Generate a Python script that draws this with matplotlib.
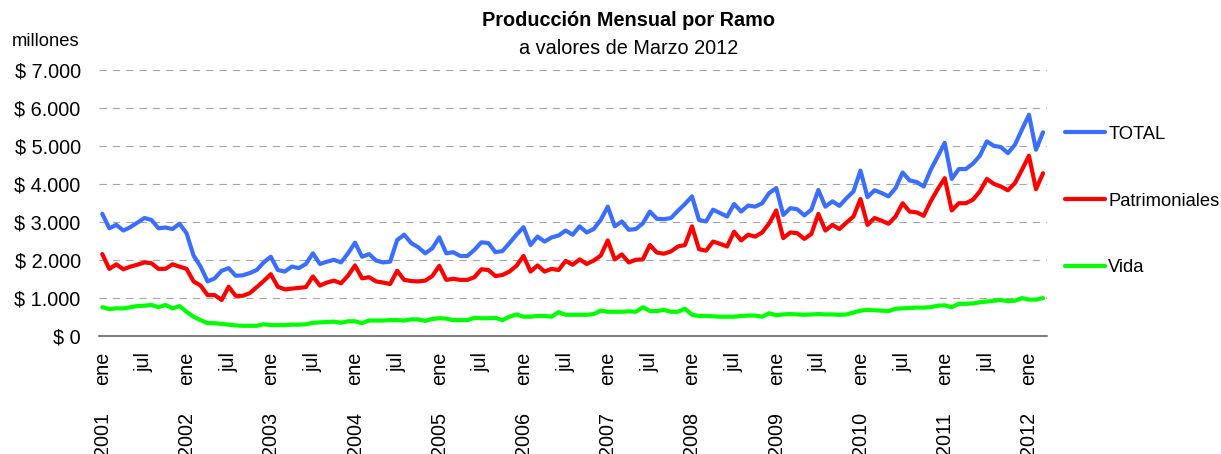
import matplotlib
matplotlib.use('Agg')
import matplotlib.pyplot as plt
import matplotlib.transforms as mtransforms

plt.rcParams['font.family'] = ['Liberation Sans', 'DejaVu Sans']
plt.rcParams['lines.scale_dashes'] = False

# monthly production (millones), ene 2001 .. mar 2012
start_year = 2001
total = [3210, 2830, 2920, 2770, 2860, 2980, 3100, 3050, 2830, 2850, 2810, 2950,
         2700, 2110, 1820, 1430, 1510, 1710, 1780, 1580, 1590, 1650, 1730, 1930,
         2080, 1730, 1690, 1820, 1780, 1890, 2170, 1890, 1950, 2000, 1930, 2170,
         2450, 2080, 2150, 1980, 1930, 1950, 2520, 2660, 2440, 2330, 2170, 2300,
         2590, 2170, 2200, 2100, 2100, 2260, 2460, 2440, 2200, 2230, 2440, 2660,
         2860, 2390, 2610, 2480, 2590, 2640, 2770, 2660, 2880, 2720, 2810, 3050,
         3400, 2880, 3010, 2790, 2810, 2960, 3270, 3080, 3070, 3100, 3290, 3470,
         3670, 3050, 3010, 3320, 3230, 3140, 3470, 3270, 3430, 3400, 3490, 3760,
         3890, 3180, 3360, 3330, 3170, 3320, 3840, 3400, 3540, 3420, 3620, 3800,
         4350, 3650, 3830, 3760, 3670, 3890, 4300, 4090, 4050, 3930, 4370, 4720,
         5080, 4130, 4390, 4390, 4530, 4740, 5120, 5000, 4970, 4810, 5030, 5430,
         5820, 4900, 5360]
patrimoniales = [2150, 1760, 1880, 1750, 1820, 1870, 1930, 1910, 1760, 1760, 1880, 1820,
                 1760, 1430, 1320, 1070, 1070, 940, 1290, 1050, 1050, 1120, 1280, 1440,
                 1620, 1290, 1220, 1240, 1260, 1280, 1560, 1320, 1400, 1450, 1380, 1580,
                 1850, 1510, 1540, 1430, 1400, 1360, 1710, 1470, 1440, 1430, 1450, 1570,
                 1840, 1470, 1500, 1470, 1470, 1540, 1750, 1730, 1570, 1600, 1690, 1840,
                 2100, 1690, 1850, 1690, 1760, 1730, 1970, 1870, 2010, 1890, 1980, 2110,
                 2510, 2010, 2140, 1930, 2000, 2010, 2390, 2190, 2160, 2220, 2350, 2390,
                 2880, 2280, 2240, 2480, 2420, 2350, 2740, 2510, 2660, 2610, 2720, 2960,
                 3300, 2570, 2720, 2700, 2550, 2680, 3210, 2770, 2920, 2810, 2980, 3140,
                 3600, 2920, 3100, 3030, 2950, 3140, 3490, 3270, 3250, 3160, 3540, 3860,
                 4150, 3300, 3490, 3490, 3580, 3800, 4130, 4000, 3930, 3830, 4020, 4370,
                 4740, 3860, 4280]
vida = [750, 700, 720, 720, 750, 780, 790, 810, 750, 810, 720, 780,
        630, 500, 410, 330, 330, 310, 290, 270, 260, 260, 260, 300,
        280, 280, 280, 290, 290, 300, 340, 350, 360, 370, 340, 380,
        380, 330, 400, 400, 400, 410, 410, 400, 430, 430, 390, 440,
        460, 450, 410, 410, 410, 470, 460, 460, 470, 410, 500, 560,
        500, 500, 520, 520, 500, 620, 550, 550, 550, 550, 570, 660,
        630, 630, 630, 640, 630, 750, 650, 650, 680, 630, 630, 710,
        550, 520, 520, 510, 500, 500, 500, 520, 530, 530, 500, 590,
        540, 560, 570, 560, 550, 560, 570, 560, 560, 550, 560, 610,
        660, 680, 670, 660, 650, 710, 720, 730, 740, 740, 750, 790,
        800, 750, 840, 840, 850, 880, 900, 920, 940, 910, 920, 990,
        950, 950, 990]

series = [total, patrimoniales, vida]
series_names = ['TOTAL', 'Patrimoniales', 'Vida']
series_colors = ['#3A6EFF', '#FF0000', '#00FF00']
y_ticks = [0, 1000, 2000, 3000, 4000, 5000, 6000, 7000]
month_names = {0: 'ene', 6: 'jul'}

n = len(total)
x = list(range(n))

fig = plt.figure(figsize=(12.21, 4.54), dpi=100)
ax = fig.add_axes([0.0809, 0.2606, 0.7762, 0.5852])

for vals, name, col in zip(series, series_names, series_colors):
    ax.plot(x, vals, color=col, lw=3.0, label=name,
            solid_joinstyle='round', solid_capstyle='round')

ax.set_xlim(-0.5, n - 0.5)
ax.set_ylim(0, 7000)
ax.set_yticks(y_ticks)
ax.set_yticklabels(['$ ' + f'{v:,}'.replace(',', '.') for v in y_ticks])
ax.yaxis.grid(True, color='#a6a6a6', lw=0.8, linestyle=(0, (5.3, 4.3)))
ax.set_axisbelow(True)
for s in ['top', 'right', 'left']:
    ax.spines[s].set_visible(False)
ax.spines['bottom'].set_color('#595959')
ax.spines['bottom'].set_linewidth(1.1)

tick_pos = [i for i in x if i % 6 == 0]
ax.set_xticks(tick_pos)
ax.set_xticklabels([month_names[i % 12] for i in tick_pos], rotation=90,
                   va='top', ha='center')
ax.tick_params(axis='x', length=0, pad=11.5, labelsize=14.3)
ax.tick_params(axis='y', length=0, pad=13, labelsize=14.3)

# year labels under the "ene" ticks
trans = mtransforms.blended_transform_factory(ax.transData, ax.transAxes)
for i in x:
    if i % 12 == 0:
        ax.annotate(str(start_year + i // 12), xy=(i, 0), xycoords=trans,
                    xytext=(0, -55), textcoords='offset points', rotation=90,
                    ha='center', va='top', fontsize=14.3, annotation_clip=False)

fig.text(628 / 1221, 1 - 20 / 454, 'Producción Mensual por Ramo', ha='center',
         va='center', fontweight='bold', fontsize=14.3)
fig.text(629 / 1221, 1 - 48 / 454, 'a valores de Marzo 2012', ha='center',
         va='center', fontsize=14.3)
fig.text(12 / 1221, 1 - 42 / 454, 'millones', ha='left', va='center', fontsize=13.2)

ax.legend(loc='center left', bbox_to_anchor=(1065 / 1221, 1 - 201 / 454),
          bbox_transform=fig.transFigure, frameon=False, fontsize=13.2,
          handlelength=2.2, handletextpad=0.16, labelspacing=2.72,
          borderpad=0, borderaxespad=0)

fig.savefig('out.png', dpi=100)
